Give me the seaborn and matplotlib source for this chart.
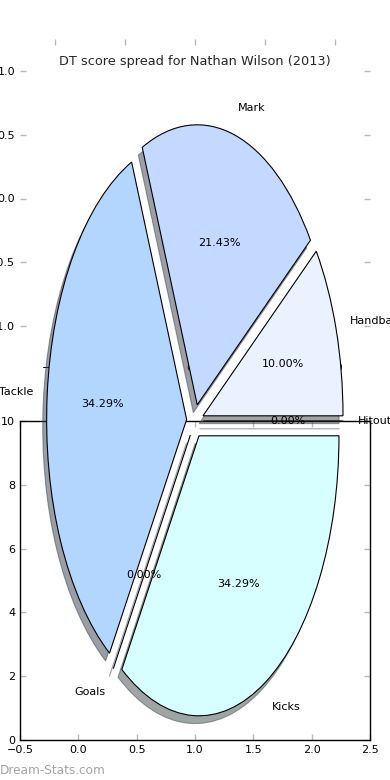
import matplotlib
matplotlib.use("Agg")
import matplotlib.pyplot as plt
import seaborn as sns

# ---- data ----
categories = ["Handball", "Mark", "Tackle", "Goals", "Kicks", "Hitout"]
dt_scores = [7, 15, 24, 0, 24, 0]
title = "DT score spread for Nathan Wilson (2013)"
ghost_ticks = [-1.0, -0.5, 0.0, 0.5, 1.0]
bottom_xticks = [-0.5, 0.0, 0.5, 1.0, 1.5, 2.0, 2.5]
bottom_yticks = [0, 2, 4, 6, 8, 10]
watermark = "Dream-Stats.com"

# ---- style ----
sns.set_theme(style="white")
plt.rcParams["font.family"] = ["DejaVu Sans"]
wedge_colors = ["#eaf1ff", "#c4d9ff", "#b3d6ff", "#c8e0ff", "#d8ffff", "#e4ecff"]
tick_gray = "#b8b8b8"

W, H = 390, 780
fig = plt.figure(figsize=(W / 100, H / 100), dpi=100)
fig.patch.set_facecolor("white")


def rect(x0, y0, x1, y1):
    return [x0 / W, 1 - y1 / H, (x1 - x0) / W, (y1 - y0) / H]


# ghost axes left over from a frameless pie axes
ghost = fig.add_axes(rect(20, 39, 370, 358), zorder=1)
ghost.set_xlim(-1.25, 1.25)
ghost.set_ylim(-1.25, 1.25)
ghost.set_xticks(ghost_ticks)
ghost.set_yticks(ghost_ticks)
for s in ghost.spines.values():
    s.set_visible(False)
ghost.patch.set_alpha(0)
ghost.tick_params(direction="in", length=4, width=1, color=tick_gray,
                  top=True, right=True, bottom=True, left=True,
                  labelsize=8, labelcolor="black")

# bottom empty axes
bottom = fig.add_axes(rect(20, 421, 370, 740), zorder=2)
bottom.set_xlim(-0.5, 2.5)
bottom.set_ylim(0, 10)
bottom.set_xticks(bottom_xticks)
bottom.set_yticks(bottom_yticks)
bottom.patch.set_alpha(0)
for s in bottom.spines.values():
    s.set_visible(True)
    s.set_color("black")
    s.set_linewidth(1)
bottom.tick_params(direction="in", length=4, width=1, color=tick_gray,
                   top=True, right=True, bottom=True, left=True,
                   labelsize=8, labelcolor="black")

# pie axes (stretched, not equal aspect)
CX, CY, RX, RY = 195, 421, 140, 280
pax = fig.add_axes([0, 0, 1, 1], zorder=3)
pax.patch.set_alpha(0)
pax.pie(dt_scores, labels=categories, colors=wedge_colors,
        explode=[0.06] * len(dt_scores), autopct="%1.2f%%", shadow=True,
        startangle=0, wedgeprops=dict(edgecolor="black", linewidth=0.8),
        textprops=dict(fontsize=8, color="black"))
pax.set_aspect("auto")
pax.set_xlim(-CX / RX, (W - CX) / RX)
pax.set_ylim(-(H - CY) / RY, CY / RY)
pax.axis("off")

fig.text(195 / W, 1 - 61 / H, title, ha="center", va="center", fontsize=9.25)
fig.text(0, 1 - 770 / H, watermark, ha="left", va="center", fontsize=8.7,
         color="#a4a4a4")

fig.savefig("out.png", dpi=100)
